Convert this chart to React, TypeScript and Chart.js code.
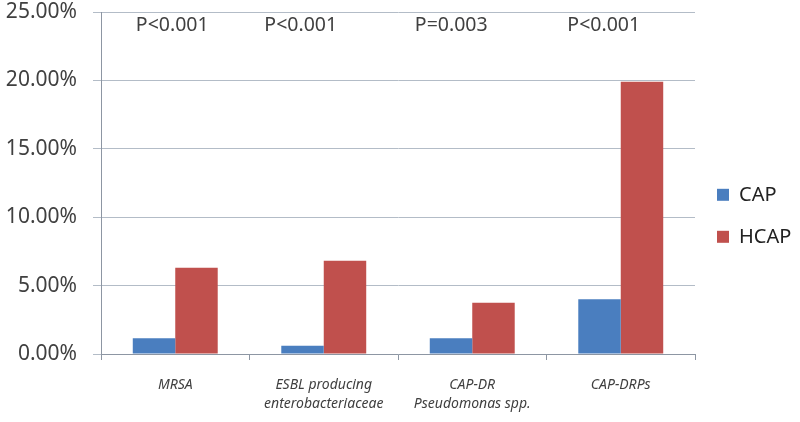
import React, { useEffect, useRef } from "react";
import { Chart, registerables } from "chart.js";

Chart.register(...registerables);

const categories: (string | string[])[] = [
  "MRSA",
  ["ESBL producing", "enterobacteriaceae"],
  ["CAP-DR", "Pseudomonas spp."],
  "CAP-DRPs",
];
const capValues = [1.15, 0.61, 1.15, 4.0];
const hcapValues = [6.31, 6.82, 3.75, 19.9];
const pValues = ["P<0.001", "P<0.001", "P=0.003", "P<0.001"];
const pOffsets = [-3, -23, -21, -17];
const yTicks = [0, 5, 10, 15, 20, 25];

const FONT = "'Noto Sans', 'Open Sans', sans-serif";
const TEXT = "#404040";

const pLabelPlugin = {
  id: "pLabels",
  afterDraw(chart: any) {
    const { ctx, chartArea } = chart;
    const xs = chart.scales.x;
    ctx.save();
    ctx.font = `19.5px ${FONT}`;
    ctx.fillStyle = TEXT;
    ctx.textAlign = "center";
    ctx.textBaseline = "middle";
    pValues.forEach((t, i) => {
      ctx.fillText(t, xs.getPixelForValue(i) + pOffsets[i], chartArea.top + 13);
    });
    ctx.restore();
  },
};

export default function App() {
  const ref = useRef<HTMLCanvasElement>(null);
  useEffect(() => {
    if (!ref.current) return;
    const chart = new Chart(ref.current, {
      type: "bar",
      data: {
        labels: categories,
        datasets: [
          {
            label: "CAP",
            data: capValues,
            backgroundColor: "#4a7ebf",
            categoryPercentage: 0.572,
            barPercentage: 1,
          },
          {
            label: "HCAP",
            data: hcapValues,
            backgroundColor: "#c0504d",
            categoryPercentage: 0.572,
            barPercentage: 1,
          },
        ],
      },
      options: {
        animation: false,
        responsive: false,
        layout: { padding: 0 },
        plugins: {
          tooltip: { enabled: false },
          legend: {
            position: "right",
            maxWidth: 105,
            title: {
              display: true,
              text: " ",
              padding: 0,
              font: { size: 8, family: FONT },
            },
            labels: {
              boxWidth: 12,
              boxHeight: 12,
              padding: 22,
              color: "#222",
              font: { size: 20, family: FONT },
            },
          },
        },
        scales: {
          x: {
            afterFit: (s: any) => {
              s.height = 68;
            },
            grid: {
              drawOnChartArea: false,
              drawTicks: true,
              tickLength: 6,
              color: "#8d96a3",
              offset: true,
            },
            border: { color: "#8d96a3" },
            ticks: {
              padding: 16,
              color: TEXT,
              maxRotation: 0,
              autoSkip: false,
              font: { size: 14, style: "italic", family: FONT, lineHeight: 1.35 },
            },
          },
          y: {
            min: 0,
            max: 25,
            afterFit: (s: any) => {
              s.width = 101;
              s.paddingTop = 12;
              s.paddingBottom = 0;
            },
            afterBuildTicks: (s: any) => {
              s.ticks = yTicks.map((v) => ({ value: v }));
            },
            grid: { color: "#b3bcc7", tickLength: 8 },
            border: { display: true, color: "#8d96a3" },
            ticks: {
              padding: 16,
              color: TEXT,
              font: { size: 21, family: FONT },
              callback: (v: any) => Number(v).toFixed(2) + "%",
            },
          },
        },
      },
      plugins: [pLabelPlugin],
    });
    return () => chart.destroy();
  }, []);
  return (
    <canvas
      ref={ref}
      width={800}
      height={422}
      style={{ position: "absolute", left: 0, top: 0, display: "block" }}
    />
  );
}
